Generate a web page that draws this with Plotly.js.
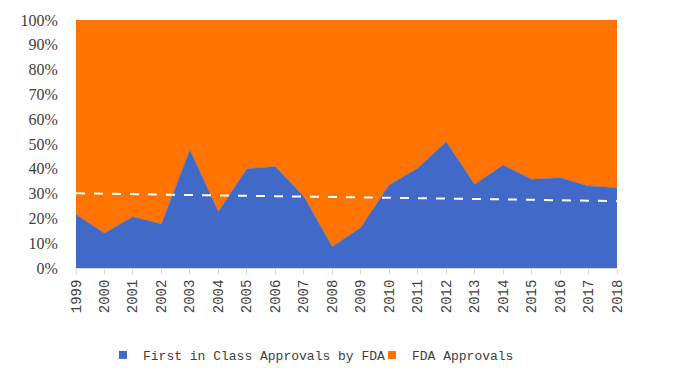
<!DOCTYPE html>
<html>
<head>
<meta charset="utf-8">
<script src="https://cdn.plot.ly/plotly-3.0.1.min.js"></script>
<style>html,body{margin:0;padding:0;background:#fff}#chart{width:700px;height:375px}</style>
</head>
<body>
<div id="chart"></div>
<script>
var years = ['1999','2000','2001','2002','2003','2004','2005','2006','2007','2008','2009','2010','2011','2012','2013','2014','2015','2016','2017','2018'];
var firstInClassShare = [21.6,14.0,20.7,17.7,47.6,22.7,40.0,40.9,28.8,8.6,16.3,33.5,40.2,50.9,33.7,41.5,35.8,36.4,33.1,32.4];
var fdaApprovalsShare = [100,100,100,100,100,100,100,100,100,100,100,100,100,100,100,100,100,100,100,100];
var trendYears = ['1999','2018'];
var trendValues = [30.1,27.0];
var seriesNames = ['First in Class Approvals by FDA','FDA Approvals'];

var blue = '#4169C8', orange = '#FF7400';
var traces = [
  {x: years, y: firstInClassShare, type:'scatter', mode:'lines', fill:'tozeroy',
   line:{color:blue, width:0.5}, fillcolor:blue, name:seriesNames[0], showlegend:false},
  {x: years, y: fdaApprovalsShare, type:'scatter', mode:'lines', fill:'tonexty',
   line:{color:orange, width:0.5}, fillcolor:orange, name:seriesNames[1], showlegend:false},
  {x: trendYears, y: trendValues, type:'scatter', mode:'lines',
   line:{color:'#ffffff', width:2, dash:'dash'}, showlegend:false, hoverinfo:'skip'},
  {x:[null], y:[null], type:'scatter', mode:'markers', name:seriesNames[0],
   marker:{symbol:'square', size:8, color:blue}, legend:'legend', showlegend:true},
  {x:[null], y:[null], type:'scatter', mode:'markers', name:seriesNames[1],
   marker:{symbol:'square', size:8, color:orange}, legend:'legend2', showlegend:true}
];
var legFont = {family:'Liberation Mono, monospace', size:13, color:'#404040'};
var legY = 1 - 355/375;
var layout = {
  width:700, height:375,
  margin:{l:76, r:83, t:20, b:107},
  paper_bgcolor:'#fff', plot_bgcolor:'#fff',
  showlegend:true,
  legend:{orientation:'h', xref:'container', yref:'container', x:103/700, y:legY, xanchor:'left', yanchor:'middle', font:legFont, itemwidth:30, bgcolor:'rgba(0,0,0,0)'},
  legend2:{orientation:'h', xref:'container', yref:'container', x:372/700, y:legY, xanchor:'left', yanchor:'middle', font:legFont, itemwidth:30, bgcolor:'rgba(0,0,0,0)'},
  xaxis:{type:'category', range:[0,19], showgrid:false, zeroline:false, automargin:false,
    showline:true, linecolor:'#d9d9d9', linewidth:1,
    ticks:'outside', ticklen:5, tickcolor:'#d9d9d9', tickangle:-90,
    tickfont:{family:'Liberation Mono, monospace', size:14, color:'#404040'}},
  yaxis:{range:[0,100], dtick:10, ticksuffix:'%', showgrid:false, zeroline:false, automargin:false,
    showline:false, ticks:'outside', ticklen:14, tickcolor:'rgba(0,0,0,0)',
    tickfont:{family:'Liberation Serif, serif', size:16, color:'#404040'}}
};
Plotly.newPlot('chart', traces, layout, {displayModeBar:false, staticPlot:true});
</script>
</body>
</html>
